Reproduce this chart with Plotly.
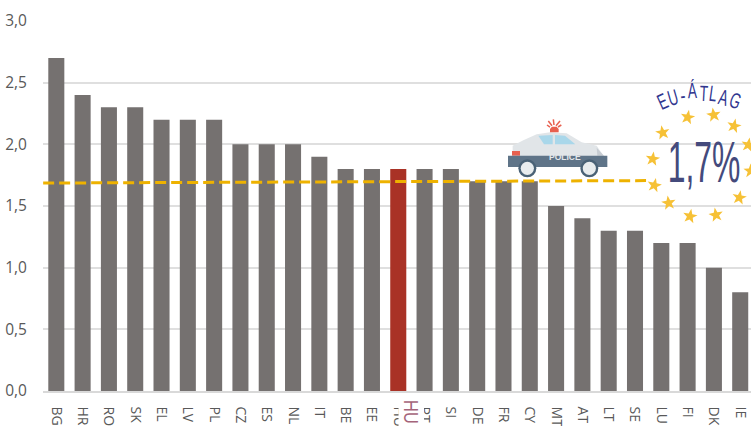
import plotly.graph_objects as go
import math

categories = ["BG","HR","RO","SK","EL","LV","PL","CZ","ES","NL","IT","BE","EE","HU","PT","SI","DE","FR","CY","MT","AT","LT","SE","LU","FI","DK","IE"]
values = [2.7,2.4,2.3,2.3,2.2,2.2,2.2,2.0,2.0,2.0,1.9,1.8,1.8,1.8,1.8,1.8,1.7,1.7,1.7,1.5,1.4,1.3,1.3,1.2,1.2,1.0,0.8]
y_ticks = [0,0.5,1,1.5,2,2.5,3]
y_labels = ["0,0","0,5","1,0","1,5","2,0","2,5","3,0"]
avg_x = [-0.5,22.42]
avg_y = [1.686,1.706]

W,H=751,426
L,T,PW,PH=43,21,708,370
GREY="#757170"; RED="#a93226"
def px(x): return (x-L)/PW
def py(y): return 1-(y-T)/PH
def P(pts,close=True):
    s="M"+" L".join(f"{px(a):.5f},{py(b):.5f}" for a,b in pts)
    return s+(" Z" if close else "")
def dx(x): return (x-56.3)/26.3
def dy(y): return (391-y)*3/370

shapes=[]
def poly(pts,color):
    shapes.append(dict(type="path",xref="paper",yref="paper",path=P(pts),fillcolor=color,line=dict(width=0),layer="above"))
def circ(cx,cy,r,color):
    shapes.append(dict(type="circle",xref="paper",yref="paper",x0=px(cx-r),x1=px(cx+r),y0=py(cy+r),y1=py(cy-r),fillcolor=color,line=dict(width=0),layer="above"))
def seg(a,b,color,w):
    shapes.append(dict(type="path",xref="paper",yref="paper",path=P([a,b],False),line=dict(color=color,width=w),layer="above"))

shapes.append(dict(type="circle",xref="x",yref="y",x0=dx(630),x1=dx(774),y0=dy(237),y1=dy(93),fillcolor="white",line=dict(width=0),layer="below"))

Z=lambda a,b:(500+a/3,115+b/3)
poly([Z(*q) for q in [(38,125),(38,92),(70,76),(110,58),(150,52),(200,55),(245,82),(290,92),(312,125)]],"#e1e5e8")
poly([Z(*q) for q in [(115,62),(158,60),(158,88),(132,88)]],"#a9d7ea")
poly([Z(*q) for q in [(165,60),(195,62),(226,88),(165,88)]],"#a9d7ea")
poly([Z(*q) for q in [(36,108),(60,108),(60,122),(36,122)]],"#e8604f")
poly([Z(*q) for q in [(290,98),(312,122),(292,122)]],"#c7ccd2")
poly([Z(*q) for q in [(24,122),(322,122),(322,156),(24,156)]],"#5f7488")
for cx in (82,268):
    c=Z(cx,160)
    circ(c[0],c[1],9,"#4a6276"); circ(c[0],c[1],6.6,"#e8ecee")
poly([Z(*q) for q in [(150,52),(150,42),(156,35),(170,35),(176,42),(176,52)]],"#e8604f")
for e,s in [((145,18),(156,32)),((160,13),(162,30)),((180,18),(168,32)),((141,30),(150,36)),((184,30),(174,36))]:
    seg(Z(*s),Z(*e),"#e8604f",1.5)

Y=lambda a,b:(640+a/3,75+b/3)
star_pos=[(143,127,10),(221,120,-8),(282,153,12),(325,210,10),(332,288,0),(298,368,10),(228,420,-10),(150,424,10),(86,384,-8),(43,331,12),(38,252,8),(68,173,-10)]
for a,b,rot in star_pos:
    cx,cy=Y(a,b); pts=[]
    for i in range(10):
        r=7.6 if i%2==0 else 3.1
        t=math.radians(-90+36*i+rot)
        pts.append((cx+r*math.cos(t),cy+r*math.sin(t)))
    poly(pts,"#f6c136")

poly([(398.5,396),(424,396),(424,426),(398.5,426)],"white")

ann=[]
def text(x,y,t,size,color,font="Liberation Sans",angle=0):
    ann.append(dict(xref="paper",yref="paper",x=px(x),y=py(y),text=t,showarrow=False,xanchor="center",yanchor="middle",
        font=dict(family=font,size=size,color=color),textangle=angle))
text(565,157,"<b>POLICE</b>",8.5,"#e3e7ea")
text(410.5,412,"HU",20,"#a5647a","Liberation Sans",90)
text(704,161,"1,7%",58,"#444a7c")
arc=[("E",68,78,-24),("U",100,68,-16),("-",128,62,-8),("Á",158,47,-2),("T",190,54,3),("L",218,56,8),("A",250,68,14),("G",285,75,20)]
for ch,a,b,ang in arc:
    c=Y(a,b); text(c[0],c[1],ch,22,"#30368f","Liberation Sans",ang)

fig=go.Figure()
fig.add_bar(x=list(range(len(categories))),y=values,width=0.61,
    marker=dict(color=[RED if c=="HU" else GREY for c in categories],line=dict(width=0)))
fig.add_scatter(x=avg_x,y=avg_y,mode="lines",line=dict(color="#eeb200",width=3,dash="11px,5px"),cliponaxis=False)
fig.update_layout(width=W,height=H,margin=dict(l=L,r=0,t=T,b=H-T-PH),paper_bgcolor="white",plot_bgcolor="white",
    showlegend=False,shapes=shapes,annotations=ann,font=dict(family="Open Sans",color="#595959"))
fig.update_xaxes(range=[-0.506,26.41],tickvals=list(range(len(categories))),ticktext=categories,tickangle=90,
    tickfont=dict(size=14,color="#595959"),ticks="",showgrid=False,showline=True,linecolor="#d9d9d9",linewidth=1.5,
    zeroline=False,ticklabelstandoff=11)
fig.update_yaxes(range=[0,3],tickvals=y_ticks,ticktext=y_labels,tickfont=dict(size=15.5,color="#595959"),ticks="",
    showgrid=True,gridcolor="#dfdfdf",gridwidth=1.5,zeroline=False,showline=False,ticklabelstandoff=15)

post="""
document.body.style.margin='0';
document.documentElement.style.overflow='hidden';
var scaleMap={'1,7%':0.55,'HU':0.82,'E':0.62,'U':0.62,'-':0.7,'Á':0.62,'T':0.62,'L':0.62,'A':0.62,'G':0.62};
document.querySelectorAll('.annotation-text').forEach(function(t){
  var k=scaleMap[t.textContent];
  if(k){
    var b=t.getBBox(),cx=b.x+b.width/2;
    t.setAttribute('transform','translate('+cx+',0) scale('+k+',1) translate('+(-cx)+',0)');
  }
});
"""
fig.write_html("out.html",post_script=post,config=dict(displayModeBar=False))
